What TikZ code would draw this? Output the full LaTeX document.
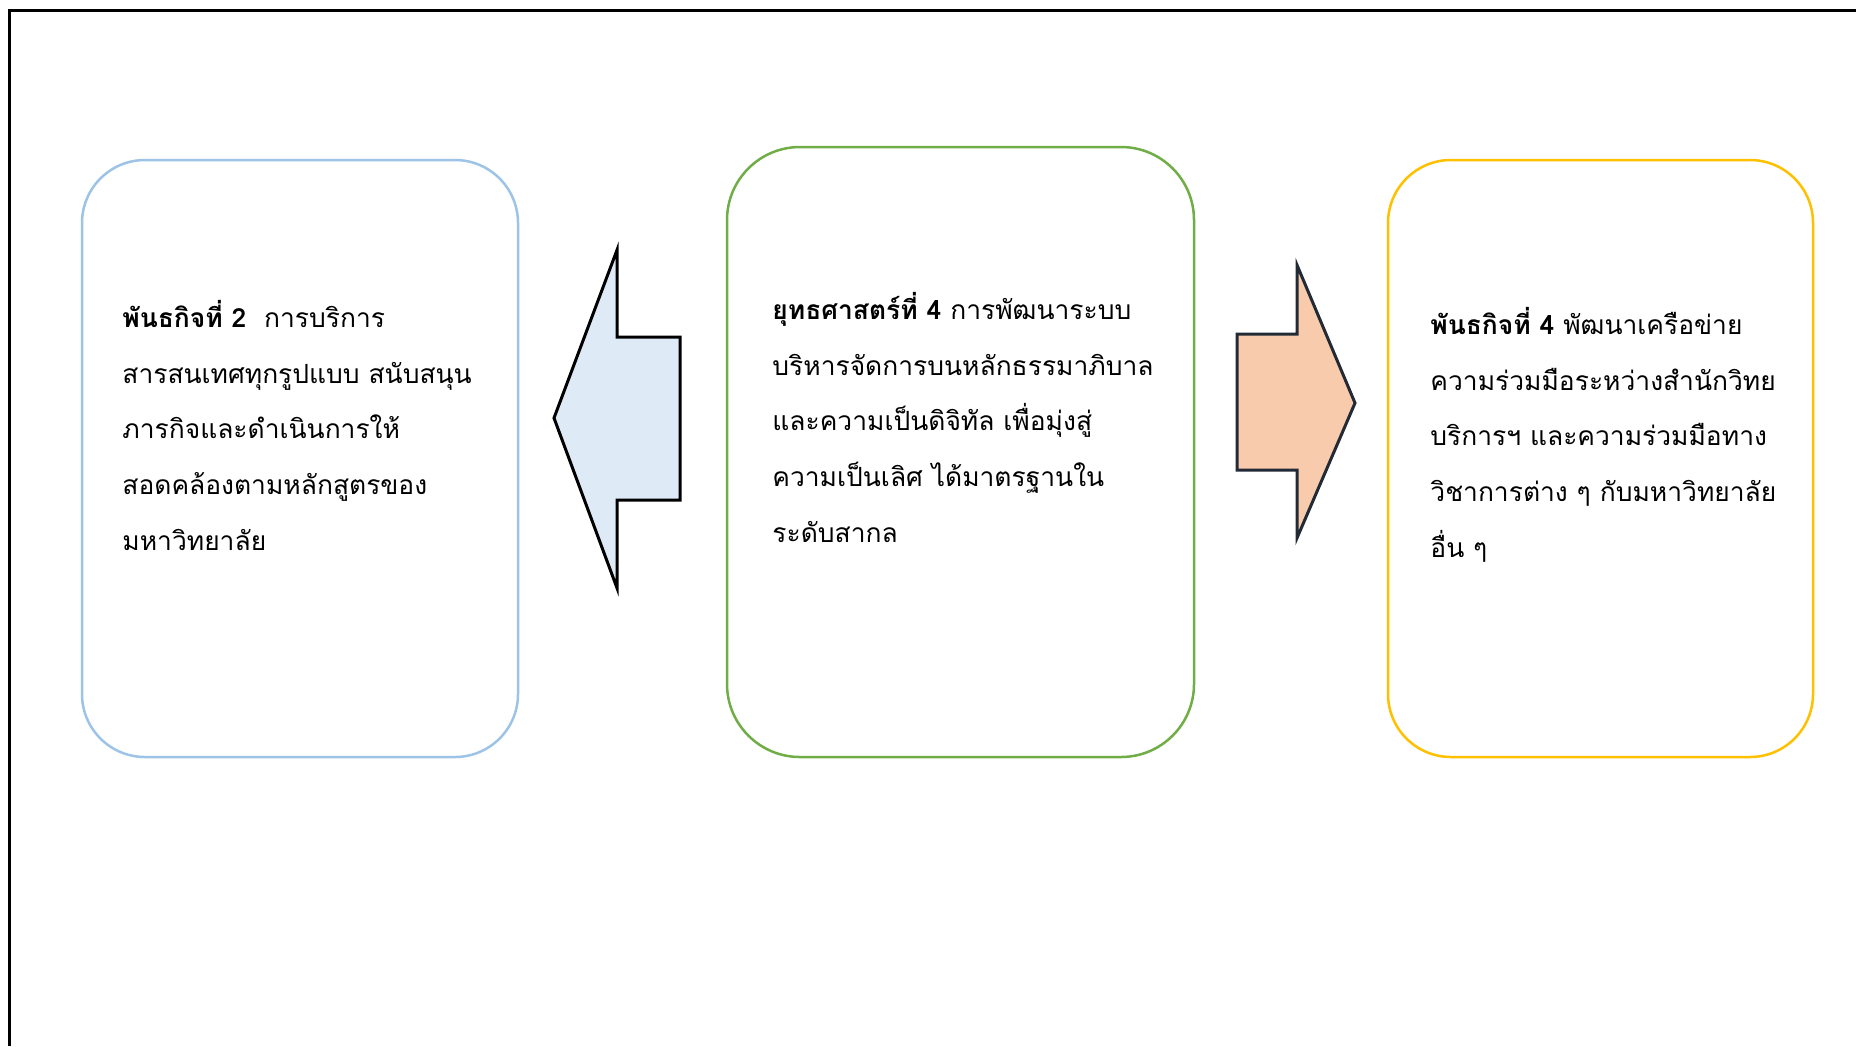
\documentclass[tikz,border=0pt]{standalone}
\usepackage{fontspec}
\usepackage{tikz}
\newfontfamily\thaifont[Script=Thai]{Loma}
\definecolor{misblue}{HTML}{9DC3E6}
\definecolor{stratgreen}{HTML}{70AD47}
\definecolor{misgold}{HTML}{FFC000}
\definecolor{arrowblue}{HTML}{DEEBF7}
\definecolor{arrowpeach}{HTML}{F8CBAD}
\definecolor{arrownavy}{HTML}{222A35}

\begin{document}
\begin{tikzpicture}[x=0.5pt, y=-0.5pt,
    goalbox/.style={draw, line width=1.25pt, minimum width=218pt, minimum height=298.5pt, inner sep=0pt},
    blurb/.style={font=\thaifont\fontsize{13.2}{27.8}\selectfont, align=left, anchor=base west, inner sep=0pt},
    blockarrow/.style={line width=1.5pt, line join=miter}]

    \useasboundingbox (0,0) rectangle (1856,1046);
    \draw[line width=1.5pt] (1856,10.5) -- (9,10.5) -- (9,1046);

    \node[goalbox, draw=misblue, rounded corners=31.5pt] (mission2) at (300,458.5) {};
    \node[goalbox, draw=stratgreen, rounded corners=36.5pt, minimum width=233.5pt, minimum height=305pt] (strategy4) at (960.5,452) {};
    \node[goalbox, draw=misgold, rounded corners=31.5pt, minimum width=212.5pt] (mission4) at (1600.5,458.5) {};

    \node[blurb] (mission2text) at (122,550) {{\bfseries พันธกิจที่ 2}\ \ การบริการ\\สารสนเทศทุกรูปแบบ สนับสนุน\\ภารกิจและดำเนินการให้\\สอดคล้องตามหลักสูตรของ\\มหาวิทยาลัย};
    \node[blurb] (strategy4text) at (772,542) {{\bfseries ยุทธศาสตร์ที่ 4} การพัฒนาระบบ\\บริหารจัดการบนหลักธรรมาภิบาล\\และความเป็นดิจิทัล เพื่อมุ่งสู่\\ความเป็นเลิศ ได้มาตรฐานใน\\ระดับสากล};
    \node[blurb] (mission4text) at (1430,557) {{\bfseries พันธกิจที่ 4} พัฒนาเครือข่าย\\ความร่วมมือระหว่างสำนักวิทย\\บริการฯ และความร่วมมือทาง\\วิชาการต่าง ๆ กับมหาวิทยาลัย\\อื่น ๆ};

    \draw[blockarrow, fill=arrowblue, draw=black] (554,418) -- (617,250) -- (617,337) -- (680,337) -- (680,500) -- (617,500) -- (617,588) -- cycle;
    \draw[blockarrow, fill=arrowpeach, draw=arrownavy] (1355,403) -- (1297,265) -- (1297,334) -- (1237,334) -- (1237,470) -- (1297,470) -- (1297,538) -- cycle;

\end{tikzpicture}
\end{document}
